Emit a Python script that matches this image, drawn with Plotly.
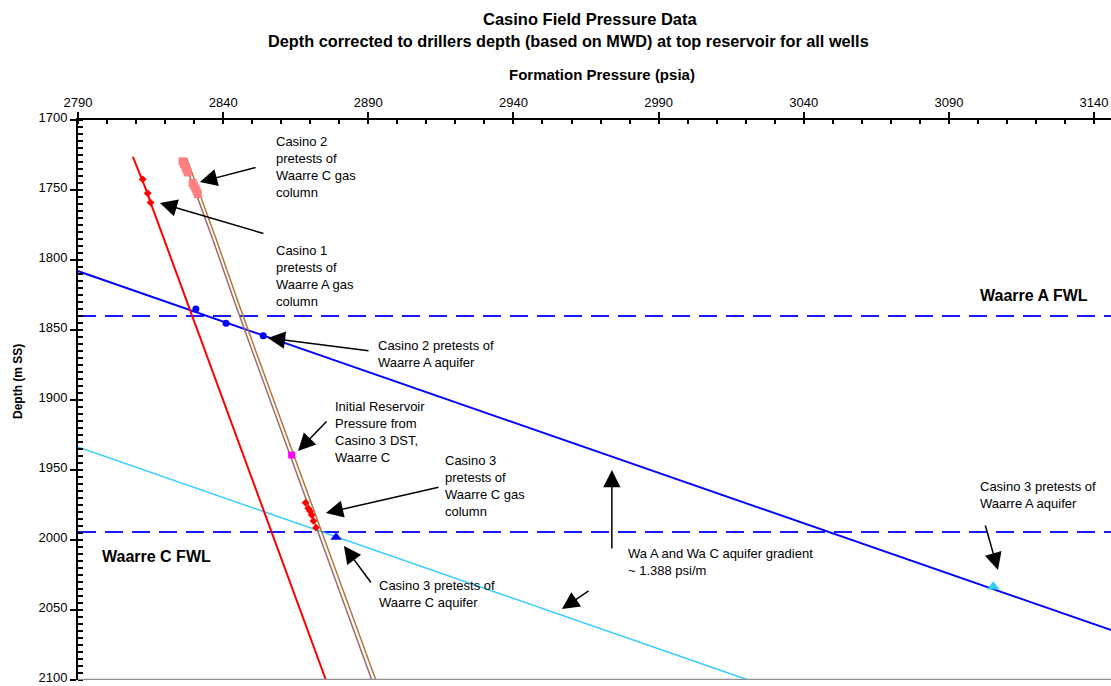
import plotly.graph_objects as go

# ---- Data -----------------------------------------------------------------
# Gas gradient lines (depth m SS, pressure psia)
c1_gas_line_depth = [1726.4, 1742.0, 1752.0, 1759.0, 2100.0]
c1_gas_line_p = [2808.9, 2812.1, 2813.9, 2815.0, 2875.4]

wc_gas_line_depth = [1727.1, 1785.7, 1828.6, 1840.7, 1864.3, 2100.0]
wc_gas_line_p_a = [2826.2, 2836.5, 2843.7, 2845.8, 2849.9, 2891.2]
wc_gas_line_p_b = [2827.4, 2837.7, 2844.9, 2847.0, 2851.1, 2892.6]

# Aquifer gradient lines (~1.388 psi/m)
wa_aq_line_depth = [1800.0, 2100.0]
wa_aq_line_p = [2779.0, 3195.4]
wc_aq_line_depth = [1920.0, 2100.0]
wc_aq_line_p = [2771.1, 3020.9]

# Free water levels
fwl_depths = [1840.0, 1994.3]

# Pretest points
c1_wa_gas_depth = [1742.4, 1752.4, 1759.0]
c1_wa_gas_p = [2812.3, 2814.0, 2815.0]

c2_wc_gas_depth = [1729.5, 1731.5, 1733.5, 1735.5, 1737.5, 1745.0, 1747.0, 1749.0, 1751.0, 1753.0]
c2_wc_gas_p = [2826.0, 2826.5, 2827.0, 2827.4, 2827.8, 2829.5, 2830.0, 2830.5, 2830.9, 2831.3]

c2_wa_aq_depth = [1835.0, 1845.2, 1854.1]
c2_wa_aq_p = [2830.6, 2841.0, 2853.8]

c3_dst_depth = [1939.3]
c3_dst_p = [2863.6]

c3_wc_gas_depth = [1973.4, 1977.4, 1979.3, 1982.1, 1986.4, 1991.2]
c3_wc_gas_p = [2868.4, 2869.3, 2869.9, 2870.5, 2871.1, 2872.0]

c3_wc_aq_depth = [1998.1]
c3_wc_aq_p = [2878.9]

c3_wa_aq_depth = [2033.4]
c3_wa_aq_p = [3105.3]

# Axis settings
x_range = [2790, 3145.84]
y_range = [2100, 1700]

FONT = "Arial, Liberation Sans, sans-serif"

fig = go.Figure()


def line(x, y, color, width, dash=None):
    fig.add_trace(go.Scatter(x=x, y=y, mode="lines",
                             line=dict(color=color, width=width, dash=dash),
                             hoverinfo="skip", showlegend=False))


def pts(x, y, color, symbol, size):
    fig.add_trace(go.Scatter(x=x, y=y, mode="markers",
                             marker=dict(color=color, symbol=symbol, size=size,
                                         line=dict(width=0)),
                             showlegend=False))


line(wc_aq_line_p, wc_aq_line_depth, "#33ccff", 1.5)
line(wa_aq_line_p, wa_aq_line_depth, "#0000ff", 2)
line(c1_gas_line_p, c1_gas_line_depth, "#ff0000", 2)
line(wc_gas_line_p_a, wc_gas_line_depth, "#a06a6a", 1.5)
line(wc_gas_line_p_b, wc_gas_line_depth, "#b07a3a", 1.5)

pts(c1_wa_gas_p, c1_wa_gas_depth, "#ff0000", "diamond", 6)
pts(c2_wc_gas_p, c2_wc_gas_depth, "#ff8080", "square", 8)
pts(c2_wa_aq_p, c2_wa_aq_depth, "#0000ff", "circle", 7)
pts(c3_dst_p, c3_dst_depth, "#ff00ff", "square", 7)
pts(c3_wc_gas_p, c3_wc_gas_depth, "#ff0000", "diamond", 6)
pts(c3_wc_aq_p, c3_wc_aq_depth, "#0000ff", "triangle-up", 10)
pts(c3_wa_aq_p, c3_wa_aq_depth, "#33ccff", "triangle-up", 11)

shapes = []
for d in fwl_depths:
    shapes.append(dict(type="line", xref="paper", x0=0, x1=1, yref="y", y0=d, y1=d,
                       line=dict(color="#1a1aff", width=2, dash="18px,9px"), layer="below"))
# grey baseline along the bottom of the plot area
shapes.append(dict(type="line", xref="paper", x0=0, x1=1, yref="y", y0=2100, y1=2100,
                   line=dict(color="#909090", width=2.5)))

annotations = []

# Arrows: (head pressure, head depth, tail pressure, tail depth)
arrows = [
    (2832.0, 1744.3, 2851.7, 1733.6),
    (2818.2, 1759.3, 2854.4, 1781.4),
    (2855.4, 1855.7, 2890.6, 1865.0),
    (2865.8, 1936.4, 2876.1, 1914.3),
    (2875.4, 1980.7, 2914.7, 1962.1),
    (2881.6, 2004.3, 2891.3, 2031.4),
    (2973.9, 1950.0, 2973.9, 2007.1),
    (2956.7, 2049.3, 2966.4, 2035.7),
    (3106.9, 2021.4, 3102.4, 1988.6),
]
for hx, hy, tx, ty in arrows:
    annotations.append(dict(x=hx, y=hy, ax=tx, ay=ty, xref="x", yref="y",
                            axref="x", ayref="y", text="", showarrow=True,
                            arrowhead=2, arrowsize=2.3, arrowwidth=1.5,
                            arrowcolor="black", standoff=0, startstandoff=0))

# Notes: (pressure, depth of top, text)
notes = [
    (2857.5, 1708.6, "Casino 2<br>pretests of<br>Waarre C gas<br>column"),
    (2857.5, 1786.4, "Casino 1<br>pretests of<br>Waarre A gas<br>column"),
    (2892.7, 1854.3, "Casino 2 pretests of<br>Waarre A aquifer"),
    (2877.8, 1897.9, "Initial Reservoir<br>Pressure from<br>Casino 3 DST,<br>Waarre C"),
    (2915.7, 1936.4, "Casino 3<br>pretests of<br>Waarre C gas<br>column"),
    (2893.0, 2025.7, "Casino 3 pretests of<br>Waarre C aquifer"),
    (2978.8, 2002.9, "Wa A and Wa C aquifer gradient<br>~ 1.388 psi/m"),
    (3100.0, 1955.0, "Casino 3 pretests of<br>Waarre A aquifer"),
]
for x, y, t in notes:
    annotations.append(dict(x=x, y=y, xref="x", yref="y", text=t, showarrow=False,
                            xanchor="left", yanchor="top", align="left",
                            font=dict(family=FONT, size=13, color="black")))

annotations.append(dict(x=3100.0, y=1825.0, xref="x", yref="y", text="<b>Waarre A FWL</b>",
                        showarrow=False, xanchor="left", yanchor="middle",
                        font=dict(family=FONT, size=16, color="black")))
annotations.append(dict(x=2797.6, y=2012.1, xref="x", yref="y", text="<b>Waarre C FWL</b>",
                        showarrow=False, xanchor="left", yanchor="middle",
                        font=dict(family=FONT, size=16, color="black")))


def px_x(p):
    return (p - 78) / 1033.0


def px_y(p):
    return (680 - p) / 560.0


annotations += [
    dict(x=px_x(590), y=px_y(19), xref="paper", yref="paper", showarrow=False,
         text="<b>Casino Field Pressure Data</b>", xanchor="center", yanchor="middle",
         font=dict(family=FONT, size=16.5, color="black")),
    dict(x=px_x(568), y=px_y(41), xref="paper", yref="paper", showarrow=False,
         text="<b>Depth corrected to drillers depth (based on MWD) at top reservoir for all wells</b>",
         xanchor="center", yanchor="middle", font=dict(family=FONT, size=16.3, color="black")),
    dict(x=px_x(602), y=px_y(74), xref="paper", yref="paper", showarrow=False,
         text="<b>Formation Pressure (psia)</b>", xanchor="center", yanchor="middle",
         font=dict(family=FONT, size=15, color="black")),
    dict(x=px_x(18), y=px_y(382), xref="paper", yref="paper", showarrow=False,
         text="<b>Depth (m SS)</b>", textangle=-90, xanchor="center", yanchor="middle",
         font=dict(family=FONT, size=12, color="black")),
]

fig.update_layout(
    width=1111, height=686,
    margin=dict(l=78, r=0, t=120, b=6, pad=0),
    paper_bgcolor="white", plot_bgcolor="white",
    font=dict(family=FONT, size=13, color="black"),
    shapes=shapes, annotations=annotations, showlegend=False,
    xaxis=dict(side="top", range=x_range, tick0=2790, dtick=50, showgrid=False,
               zeroline=False, showline=True, linecolor="black", linewidth=2,
               ticks="outside", ticklen=6, tickwidth=2, tickcolor="black",
               minor=dict(dtick=10, ticks="inside", ticklen=4, tickwidth=1.5, tickcolor="black"),
               tickfont=dict(family=FONT, size=13), automargin=False,
               ticklabeloverflow="allow"),
    yaxis=dict(range=y_range, tick0=1700, dtick=50, showgrid=False, zeroline=False,
               showline=True, linecolor="black", linewidth=2,
               ticks="outside", ticklen=6, tickwidth=2, tickcolor="black",
               minor=dict(dtick=5, ticks="inside", ticklen=5, tickwidth=1.5, tickcolor="black"),
               tickfont=dict(family=FONT, size=13), automargin=False,
               ticklabeloverflow="allow", ticklabelshift=3),
)

fig.write_html("out.html")
